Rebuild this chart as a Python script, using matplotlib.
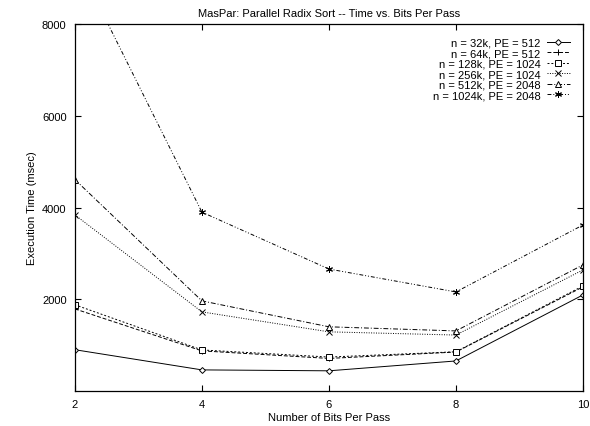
#!/usr/bin/env python3
import matplotlib
matplotlib.use("Agg")
import matplotlib.pyplot as plt

plt.rcParams["font.family"] = ["Liberation Sans", "DejaVu Sans"]
plt.rcParams["font.size"] = 8

bits = [2, 4, 6, 8, 10]

labels = [
    "n = 32k, PE = 512",
    "n = 64k, PE = 512",
    "n = 128k, PE = 1024",
    "n = 256k, PE = 1024",
    "n = 512k, PE = 2048",
    "n = 1024k, PE = 2048",
]

t_32k = [900, 460, 440, 655, 2095]
t_64k = [1790, 875, 710, 850, 2270]
t_128k = [1880, 895, 740, 855, 2290]
t_256k = [3840, 1725, 1290, 1220, 2640]
t_512k = [4610, 1965, 1400, 1310, 2750]
t_1024k = [9450, 3900, 2660, 2160, 3620]

series = [t_32k, t_64k, t_128k, t_256k, t_512k, t_1024k]

# gnuplot-ish monochrome styles
styles = [
    dict(ls="-", marker="D", ms=3, mfc="white"),
    dict(ls=(0, (4, 2)), marker="+", ms=4.5, mfc="none"),
    dict(ls=(0, (2, 2)), marker="s", ms=4, mfc="white"),
    dict(ls=(0, (1, 1.5)), marker="x", ms=4, mfc="none"),
    dict(ls=(0, (5, 2, 1, 2)), marker="^", ms=4, mfc="white"),
    dict(ls=(0, (4, 2, 1, 2, 1, 2)), marker=(6, 2, 0), ms=5, mfc="none"),
]


def main():
    fig = plt.figure(figsize=(5.9, 4.27), dpi=100)
    ax = fig.add_axes([0.127, 0.082, 0.861, 0.859])

    for lab, vals, st in zip(labels, series, styles):
        ax.plot(bits, vals, color="black", lw=0.7, mew=0.7, mec="black",
                label=lab, clip_on=True, **st)

    ax.set_xlim(2, 10)
    ax.set_ylim(0, 8000)
    ax.set_xticks([2, 4, 6, 8, 10])
    ax.set_yticks([2000, 4000, 6000, 8000])
    ax.tick_params(direction="in", top=True, right=True, length=4, width=0.8,
                   labelsize=8, pad=6)
    for sp in ax.spines.values():
        sp.set_linewidth(0.9)

    ax.set_xlabel("Number of Bits Per Pass", labelpad=2)
    ax.set_ylabel("Execution Time (msec)")
    ax.yaxis.set_label_coords(-0.075, 0.5)
    ax.set_title("MasPar: Parallel Radix Sort -- Time vs. Bits Per Pass",
                 fontsize=8, pad=6)

    ax.legend(loc="upper right", frameon=False, markerfirst=False,
              handlelength=2.0, handletextpad=0.6, labelspacing=0.05,
              borderaxespad=0.8, fontsize=8)

    fig.savefig("out.png", dpi=100)
    plt.close(fig)


if __name__ == "__main__":
    main()
